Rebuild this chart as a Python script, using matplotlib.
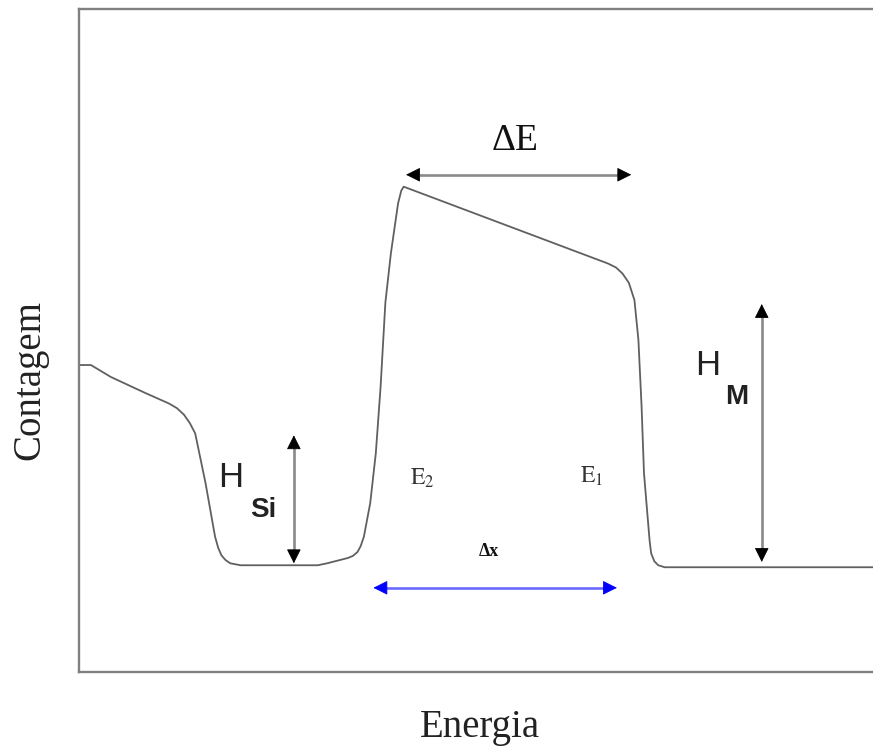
import matplotlib
matplotlib.use("Agg")
import matplotlib.pyplot as plt

# Schematic RBS spectrum: counts vs. energy (arbitrary units)
energy = [0.1, 1.5, 4.0, 8.3, 11.3, 12.3, 13.2, 13.9, 14.6, 15.9, 17.1, 17.5,
          17.9, 18.4, 19.0, 20.3, 30.0, 31.2, 33.8, 34.4, 35.0, 35.4, 35.8,
          36.6, 37.3, 37.9, 38.5, 39.2, 40.1, 40.5, 40.8, 66.5, 67.5, 68.3,
          69.1, 69.8, 70.3, 70.7, 71.0, 71.7, 71.9, 72.3, 72.8, 73.6, 100.0]
counts = [46.3, 46.3, 44.5, 42.1, 40.5, 39.8, 38.8, 37.6, 36.0, 28.5, 20.4, 18.7,
          17.6, 16.9, 16.4, 16.1, 16.1, 16.4, 17.2, 17.5, 18.1, 19.0, 20.4,
          25.5, 33.0, 43.0, 55.7, 63.2, 70.7, 72.6, 73.2, 61.6, 61.0, 60.1,
          58.7, 56.1, 50.1, 40.0, 30.0, 19.9, 17.9, 16.7, 16.1, 15.8, 15.8]

# Annotation arrows: (x0, y0, x1, y1)
arrow_dE = (41.1, 75.0, 69.4, 75.0)
arrow_hsi = (27.0, 16.4, 27.0, 35.7)
arrow_hm = (85.8, 16.6, 85.8, 55.5)
arrow_dx = (37.0, 12.7, 67.6, 12.7)

W, H = 873, 753
fig = plt.figure(figsize=(W / 100, H / 100), dpi=100)
ax = fig.add_axes([79 / W, (753 - 672) / H, 1 - 79 / W + 0.002, (672 - 9) / H])
ax.set_xlim(0, 100)
ax.set_ylim(0, 100)

for side in ("left", "top", "bottom"):
    ax.spines[side].set_color("#808080")
    ax.spines[side].set_linewidth(1.7)
ax.spines["right"].set_visible(False)
ax.set_xticks([])
ax.set_yticks([])

ax.plot(energy, counts, color="#606060", lw=1.3, solid_joinstyle="round")


def double_arrow(seg, shaft_color, head_color):
    x0, y0, x1, y1 = seg
    horizontal = (y0 == y1)
    # head length in data units (about 13 px)
    d = 1.6 if horizontal else 1.95
    if horizontal:
        inner0, inner1 = (x0 + d, y0), (x1 - d, y1)
    else:
        inner0, inner1 = (x0, y0 + d), (x1, y1 - d)
    ax.plot([inner0[0], inner1[0]], [inner0[1], inner1[1]], color=shaft_color,
            lw=1.9, solid_capstyle="butt", zorder=3)
    for tip, base in (((x0, y0), inner0), ((x1, y1), inner1)):
        ax.annotate("", xy=tip, xytext=base,
                    arrowprops=dict(arrowstyle="-|>,head_length=0.9,head_width=0.45",
                                    color=head_color, lw=0.6,
                                    shrinkA=0, shrinkB=0),
                    zorder=4)


double_arrow(arrow_dE, "#8a8a8a", "black")
double_arrow(arrow_hsi, "#8a8a8a", "black")
double_arrow(arrow_hm, "#8a8a8a", "black")
double_arrow(arrow_dx, "#6a6aff", "#0000ff")

serif = "Liberation Serif"
sans = "Liberation Sans"
plt.rcParams["mathtext.fontset"] = "stix"

ax.text(54.8, 80.2, "ΔE", family=serif, fontsize=27, ha="center", va="center",
        color="#111111")
ax.text(19.0, 29.3, "H", family=sans, fontsize=25, ha="center", va="center",
        color="#222222")
ax.text(23.2, 24.4, "Si", family=sans, fontsize=20, fontweight="bold",
        ha="center", va="center", color="#222222")
ax.text(79.0, 46.2, "H", family=sans, fontsize=25, ha="center", va="center",
        color="#222222")
ax.text(82.6, 41.5, "M", family=sans, fontsize=20, fontweight="bold",
        ha="center", va="center", color="#222222")
ax.text(43.2, 29.2, r"$\mathrm{E}_2$", fontsize=17, ha="center", va="center",
        color="#333333")
ax.text(64.4, 29.6, r"$\mathrm{E}_1$", fontsize=17, ha="center", va="center",
        color="#333333")
ax.text(51.5, 18.1, "Δx", family=serif, fontsize=13, fontweight="bold",
        ha="center", va="center", color="#111111")

fig.text(480 / W, 1 - 727 / H, "Energia", family=serif, fontsize=28,
         ha="center", va="center", color="#222222")
fig.text(30 / W, 1 - 380 / H, "Contagem", family=serif, fontsize=28,
         rotation=90, ha="center", va="center", color="#222222")

fig.savefig("out.png", dpi=100)
